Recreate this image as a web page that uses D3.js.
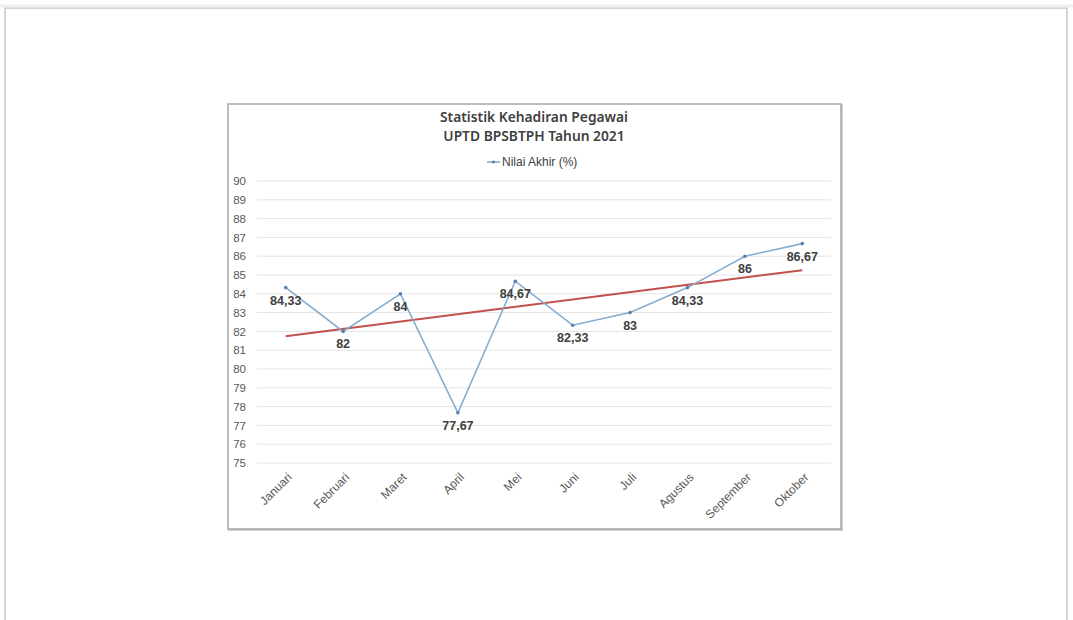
<!DOCTYPE html>
<html><head><meta charset="utf-8">
<script src="https://cdn.jsdelivr.net/npm/d3@7"></script>
<style>html,body{margin:0;padding:0;background:#fff;}svg{display:block;}</style>
</head><body>
<script>
const categories = ["Januari","Februari","Maret","April","Mei","Juni","Juli","Agustus","September","Oktober"];
const values = [84.33, 82, 84, 77.67, 84.67, 82.33, 83, 84.33, 86, 86.67];
const valueLabels = ["84,33","82","84","77,67","84,67","82,33","83","84,33","86","86,67"];
const yTicks = [75,76,77,78,79,80,81,82,83,84,85,86,87,88,89,90];
const titleLines = ["Statistik Kehadiran Pegawai","UPTD BPSBTPH Tahun 2021"];
const legendLabel = "Nilai Akhir (%)";

const W = 1073, H = 620;
const svg = d3.select("body").append("svg").attr("width", W).attr("height", H);

// outer page frame
svg.append("rect").attr("x",5).attr("y",8).attr("width",1062).attr("height",620)
  .attr("fill","#fff").attr("stroke","#d4d4d4").attr("stroke-width",2);
svg.append("line").attr("x1",0).attr("x2",W).attr("y1",6).attr("y2",6).attr("stroke","#f0f0f0").attr("stroke-width",3);

// chart box
const box = {x:228, y:104, w:613, h:425};
svg.append("rect").attr("x",box.x+1).attr("y",box.y+1).attr("width",box.w).attr("height",box.h)
  .attr("fill","none").attr("stroke","#d0d0d0").attr("stroke-width",2);
svg.append("rect").attr("x",box.x).attr("y",box.y).attr("width",box.w).attr("height",box.h)
  .attr("fill","#fff").attr("stroke","#a6a6a6").attr("stroke-width",1.5);

const plot = {l:257, r:831, t:181, b:463};
const x = d3.scaleBand().domain(categories).range([plot.l, plot.r]).padding(0);
const y = d3.scaleLinear().domain([75,90]).range([plot.b, plot.t]);
const cx = d => x(d) + x.bandwidth()/2;

// gridlines
svg.append("g").selectAll("line").data(yTicks).join("line")
  .attr("x1",plot.l).attr("x2",plot.r).attr("y1",d=>y(d)).attr("y2",d=>y(d))
  .attr("stroke","#e4e4e4").attr("stroke-width",1);

// y axis labels
const yAxis = d3.axisLeft(y).tickValues(yTicks).tickSize(0).tickPadding(0);
const gy = svg.append("g").attr("transform",`translate(246,0)`).call(yAxis);
gy.select(".domain").remove();
gy.selectAll("text").attr("font-family","Liberation Sans, Arial, sans-serif").attr("font-size",11.5).attr("fill","#595959");

// x axis labels
const xAxis = d3.axisBottom(x).tickSize(0).tickPadding(0);
const gx = svg.append("g").attr("transform",`translate(0,470)`).call(xAxis);
gx.select(".domain").remove();
gx.selectAll("text").attr("font-family","Liberation Sans, Arial, sans-serif").attr("font-size",12).attr("fill","#595959")
  .attr("text-anchor","end").attr("dy","0.35em").attr("transform","translate(4,5) rotate(-45)");

// trend line (linear regression)
const n = values.length;
const xs = d3.range(1, n+1);
const mx = d3.mean(xs), my = d3.mean(values);
const slope = d3.sum(xs, (xi,i)=>(xi-mx)*(values[i]-my)) / d3.sum(xs, xi=>(xi-mx)*(xi-mx));
const icpt = my - slope*mx;
svg.append("line")
  .attr("x1",cx(categories[0])).attr("y1",y(icpt+slope*1))
  .attr("x2",cx(categories[n-1])).attr("y2",y(icpt+slope*n))
  .attr("stroke","#c0504d").attr("stroke-width",2);

// series line
const line = d3.line().x((d,i)=>cx(categories[i])).y(d=>y(d));
svg.append("path").datum(values).attr("d",line).attr("fill","none")
  .attr("stroke","#86adce").attr("stroke-width",1.6);
svg.append("g").selectAll("circle").data(values).join("circle")
  .attr("cx",(d,i)=>cx(categories[i])).attr("cy",d=>y(d)).attr("r",1.8).attr("fill","#5b7fa6");

// data labels
svg.append("g").selectAll("text").data(values).join("text")
  .attr("x",(d,i)=>cx(categories[i])).attr("y",d=>y(d)+17)
  .attr("text-anchor","middle").attr("font-family","Liberation Sans, Arial, sans-serif")
  .attr("font-size",12.5).attr("font-weight","bold").attr("fill","#404040")
  .text((d,i)=>valueLabels[i]);

// title
svg.append("g").selectAll("text").data(titleLines).join("text")
  .attr("x",534).attr("y",(d,i)=>122+i*19).attr("text-anchor","middle")
  .attr("font-family","Noto Sans, sans-serif").attr("font-size",13.8).attr("font-weight",600).attr("fill","#404040")
  .text(d=>d);

// legend
svg.append("line").attr("x1",487).attr("x2",500).attr("y1",162).attr("y2",162).attr("stroke","#86adce").attr("stroke-width",1.6);
svg.append("circle").attr("cx",493.5).attr("cy",162).attr("r",1.6).attr("fill","#5b7fa6");
svg.append("text").attr("x",502).attr("y",166).attr("font-family","Liberation Sans, Arial, sans-serif")
  .attr("font-size",12).attr("fill","#404040").text(legendLabel);
</script>
</body></html>
